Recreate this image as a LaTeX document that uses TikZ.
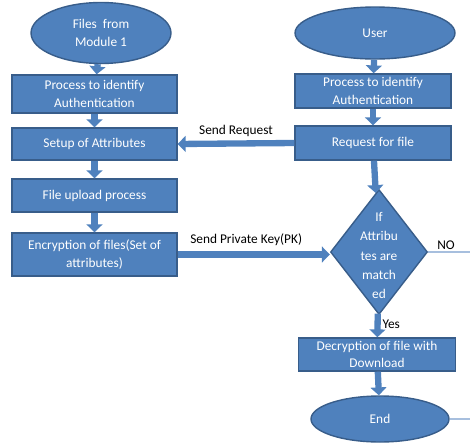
\documentclass[tikz,border=0pt]{standalone}
\usepackage{fontspec}
\setmainfont{Carlito}
\usetikzlibrary{shapes.geometric, arrows.meta, positioning, calc}

\definecolor{boxblue}{HTML}{4F81BD}
\definecolor{boxedge}{HTML}{385D8A}
\definecolor{noblue}{HTML}{A7BFDE}

\begin{document}
\begin{tikzpicture}[
  x=0.02cm, y=-0.02cm,
  % Block arrows between steps
  arr/.style={-{Triangle[width=9pt,length=4.5pt]}, line width=3.6pt, draw=boxblue},
  % Thin return line
  noline/.style={draw=noblue, line width=0.8pt},
  % Labels on arrows
  lbl/.style={font=\fontsize{7.6}{9}\selectfont, text=black, inner sep=1pt},
  % Node styles
  basebox/.style={fill=boxblue, draw=boxedge, line width=0.8pt, text=white,
    align=center, font=\fontsize{7.6}{10}\selectfont, inner sep=1pt},
  proc/.style={basebox, rectangle, minimum width=3.3cm},
  term/.style={basebox, ellipse, inner sep=0pt},
  decis/.style={basebox, diamond, inner sep=0pt, minimum width=1.94cm, minimum height=2.5cm}
]
\useasboundingbox (0,0) rectangle (470,443);

%% Left column (sender side)
\node[term] (files) at (101,33) [minimum width=2.8cm, minimum height=1.22cm] {Files~ from\\Module 1};
\node[proc] (auth1) at (94.5,94) [minimum height=0.76cm] {Process to identify\\Authentication};
\node[proc] (setup) at (94.5,144) [minimum height=0.64cm] {Setup of Attributes};
\node[proc] (upload) at (94.5,195.5) [minimum height=0.66cm] {File upload process};
\node[proc] (encr) at (94.5,254.5) [minimum height=0.86cm] {Encryption of files(Set of\\attributes)};

%% Right column (user side)
\node[term] (user) at (375,33) [minimum width=3.2cm, minimum height=1.04cm] {User};
\node[proc] (auth2) at (373,91) [minimum width=3.12cm, minimum height=0.68cm] {Process to identify\\Authentication};
\node[proc] (req) at (373,143) [minimum width=3.12cm, minimum height=0.68cm] {Request for file};
\node[decis] (match) at (379,252)
  [label={[font=\fontsize{7.6}{11}\selectfont, text=white, align=center, yshift=-2pt]center:If\\Attribu\\tes are\\match\\ed}] {};
\node[proc] (dec) at (377,354.5) [minimum width=3.14cm, minimum height=0.66cm] {Decryption of file with\\Download};
\node[term] (endn) at (380,419) [minimum width=2.76cm, minimum height=0.92cm] {End};

%% Edges down the left column
\draw[arr] (files) -- (auth1);
\draw[arr] (auth1) -- (setup);
\draw[arr] (setup) -- (upload);
\draw[arr] (upload) -- (encr);

%% Edges down the right column
\draw[arr] (user) -- (auth2);
\draw[arr] (auth2) -- (req);
\draw[arr] (req) -- (match);
\draw[arr] (match) -- node[lbl, right, pos=0.45] {Yes} (dec);
\draw[arr] (dec) -- (endn);

%% Cross links
\draw[arr] (req.west) -- node[lbl, above=1pt] {Send Request} (setup.east);
\draw[arr] (encr.east) -- node[lbl, above=2pt, pos=0.45] {Send Private Key(PK)} (encr.east -| match.west);

%% NO branch back to End (runs off the right edge)
\coordinate (edge) at (473,0);
\node[lbl, anchor=south west, xshift=4pt] at (match.east) {NO};
\draw[noline] (match.east) -- (match.east -| edge) -- (endn.east -| edge) -- (endn.east);

\end{tikzpicture}
\end{document}
